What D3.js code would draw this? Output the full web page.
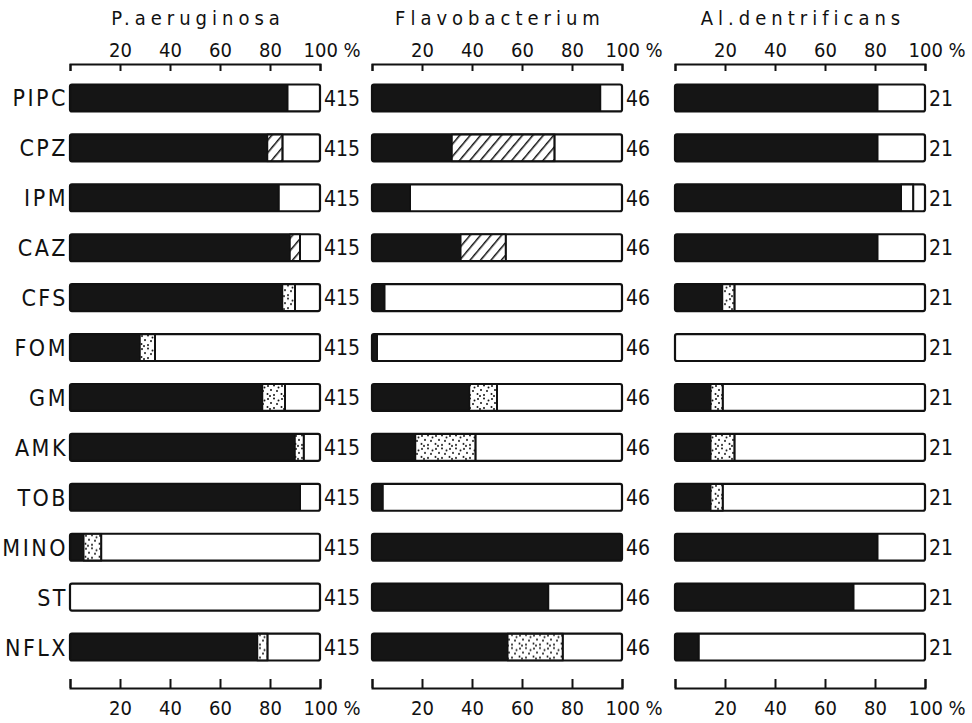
<!DOCTYPE html>
<html>
<head>
<meta charset="utf-8">
<script src="https://cdn.jsdelivr.net/npm/d3@7"></script>
<style>
  body { margin: 0; background: #fff; }
  text { font-family: "DejaVu Sans Condensed", "DejaVu Sans", sans-serif; fill: #111; }
</style>
</head>
<body>
<svg id="chart"></svg>
<script>
// drugs, organisms and isolate counts
var categories = ["PIPC", "CPZ", "IPM", "CAZ", "CFS", "FOM", "GM", "AMK", "TOB", "MINO", "ST", "NFLX"];
var organisms = ["P.aeruginosa", "Flavobacterium", "Al.dentrificans"];
var isolates = [415, 46, 21];
var tickValues = [0, 20, 40, 60, 80, 100];

// % of strains in the black (first) segment
var resistant = [
  [87, 79, 83.5, 88, 85, 28, 77, 90, 92, 5.5, 0, 75],
  [91.3, 32, 15.2, 35.5, 5, 2, 39, 17.4, 4.3, 100, 70.5, 54.3],
  [81, 81, 90.5, 81, 19, 0, 14.3, 14.3, 14.3, 81, 71.4, 9.5]
];
// % of strains in the shaded (second) segment
var intermediate = [
  [0, 6, 0, 4, 5, 6, 9, 3.5, 0, 7, 0, 4],
  [0, 41, 0, 18, 0, 0, 11, 24, 0, 0, 0, 22],
  [0, 0, 4.8, 0, 4.8, 0, 4.8, 9.5, 4.8, 0, 0, 0]
];
// shading used for the second segment of each drug
var shading = ["dots", "hatch", "plain", "hatch", "dots", "dots", "dots", "dots", "dots", "dots", "dots", "dots"];

var width = 972, height = 723;
var BarColor = "#151515";
var panelLeft = [70, 372, 675], panelWidth = 250;

var svg = d3.select("#chart")
    .attr("width", width)
    .attr("height", height);

// fill patterns
var defs = svg.append("defs");
var hatch = defs.append("pattern")
    .attr("id", "hatch")
    .attr("patternUnits", "userSpaceOnUse")
    .attr("width", 8).attr("height", 8)
    .attr("patternTransform", "rotate(40)");
hatch.append("rect").attr("width", 8).attr("height", 8).attr("fill", "#fff");
hatch.append("line")
    .attr("x1", 0).attr("y1", 0).attr("x2", 0).attr("y2", 8)
    .attr("stroke", "#111").attr("stroke-width", 3);

var dots = defs.append("pattern")
    .attr("id", "dots")
    .attr("patternUnits", "userSpaceOnUse")
    .attr("width", 14).attr("height", 13);
dots.append("rect").attr("width", 14).attr("height", 13).attr("fill", "#fff");
[[2, 2], [8, 1.5], [5, 6], [11, 7], [1.5, 10], [8, 11], [12.5, 3.5], [4, 12]].forEach(function(p) {
  dots.append("circle").attr("cx", p[0]).attr("cy", p[1]).attr("r", 1).attr("fill", "#111");
});

var y = d3.scaleBand()
    .domain(categories)
    .range([73, 672])
    .paddingInner(0.46)
    .paddingOuter(0.23);

// drug labels
svg.append("g").selectAll("text")
    .data(categories)
    .enter().append("text")
    .attr("x", 68)
    .attr("y", function(d) { return y(d) + y.bandwidth() / 2; })
    .attr("dy", "0.37em")
    .attr("text-anchor", "end")
    .style("font-size", "23px")
    .style("letter-spacing", "2.5px")
    .text(function(d) { return d; });

organisms.forEach(function(org, p) {
  var x = d3.scaleLinear().domain([0, 100]).range([panelLeft[p], panelLeft[p] + panelWidth]);
  var g = svg.append("g");

  g.append("text")
    .attr("x", (x(0) + x(100)) / 2 + 3)
    .attr("y", 25)
    .attr("text-anchor", "middle")
    .style("font-size", "20px")
    .style("letter-spacing", "5px")
    .text(org);

  var fmt = function(d) { return d === 0 ? "" : (d === 100 ? "100 %" : d); };

  // top scale: ticks down, labels above
  var top = g.append("g")
    .attr("transform", "translate(0,64)")
    .call(d3.axisBottom(x).tickValues(tickValues).tickSize(7).tickFormat(fmt));
  top.selectAll("text").attr("y", -7).attr("dy", "0");

  // bottom scale: ticks up, labels below
  var bottom = g.append("g")
    .attr("transform", "translate(0,688)")
    .call(d3.axisTop(x).tickValues(tickValues).tickSize(9).tickFormat(fmt));
  bottom.selectAll("text").attr("y", 27).attr("dy", "0");

  [top, bottom].forEach(function(ax) {
    ax.selectAll("path, line").attr("stroke", "#111").attr("stroke-width", 2);
    ax.selectAll("text")
      .style("font-size", "20px")
      .style("font-family", "'DejaVu Sans Condensed', 'DejaVu Sans', sans-serif")
      .attr("fill", "#111")
      .filter(function(d) { return d === 100; })
      .attr("text-anchor", "start")
      .attr("dx", "-17");
  });

  var rows = categories.map(function(c, i) {
    return { cat: c, res: resistant[p][i], mid: intermediate[p][i], shade: shading[i] };
  });

  var bar = g.selectAll(".bar")
    .data(rows)
    .enter().append("g")
    .attr("transform", function(d) { return "translate(0," + y(d.cat) + ")"; });

  // white bar background
  bar.append("rect")
    .attr("x", x(0))
    .attr("width", x(100) - x(0))
    .attr("height", y.bandwidth())
    .attr("fill", "#fff");

  // black segment
  bar.filter(function(d) { return d.res > 0; })
    .append("rect")
    .attr("x", x(0))
    .attr("width", function(d) { return x(d.res) - x(0); })
    .attr("height", y.bandwidth())
    .attr("fill", BarColor);

  // shaded segment
  bar.filter(function(d) { return d.mid > 0; })
    .append("rect")
    .attr("x", function(d) { return x(d.res); })
    .attr("width", function(d) { return x(d.res + d.mid) - x(d.res); })
    .attr("height", y.bandwidth())
    .attr("fill", function(d) { return d.shade === "plain" ? "#fff" : "url(#" + d.shade + ")"; })
    .attr("stroke", "#111")
    .attr("stroke-width", 1.5);

  // divider at the end of the filled part
  bar.filter(function(d) { return d.res + d.mid > 0 && d.res + d.mid < 100; })
    .append("line")
    .attr("x1", function(d) { return x(d.res + d.mid); })
    .attr("x2", function(d) { return x(d.res + d.mid); })
    .attr("y1", 0)
    .attr("y2", y.bandwidth())
    .attr("stroke", "#111")
    .attr("stroke-width", 2);

  // outline
  bar.append("rect")
    .attr("x", x(0))
    .attr("width", x(100) - x(0))
    .attr("height", y.bandwidth())
    .attr("rx", 2)
    .attr("fill", "none")
    .attr("stroke", "#111")
    .attr("stroke-width", 2.2);

  // number of isolates
  bar.append("text")
    .attr("x", x(100) + 4)
    .attr("y", y.bandwidth() / 2)
    .attr("dy", "0.37em")
    .style("font-size", "21px")
    .text(isolates[p]);
});
</script>
</body>
</html>
